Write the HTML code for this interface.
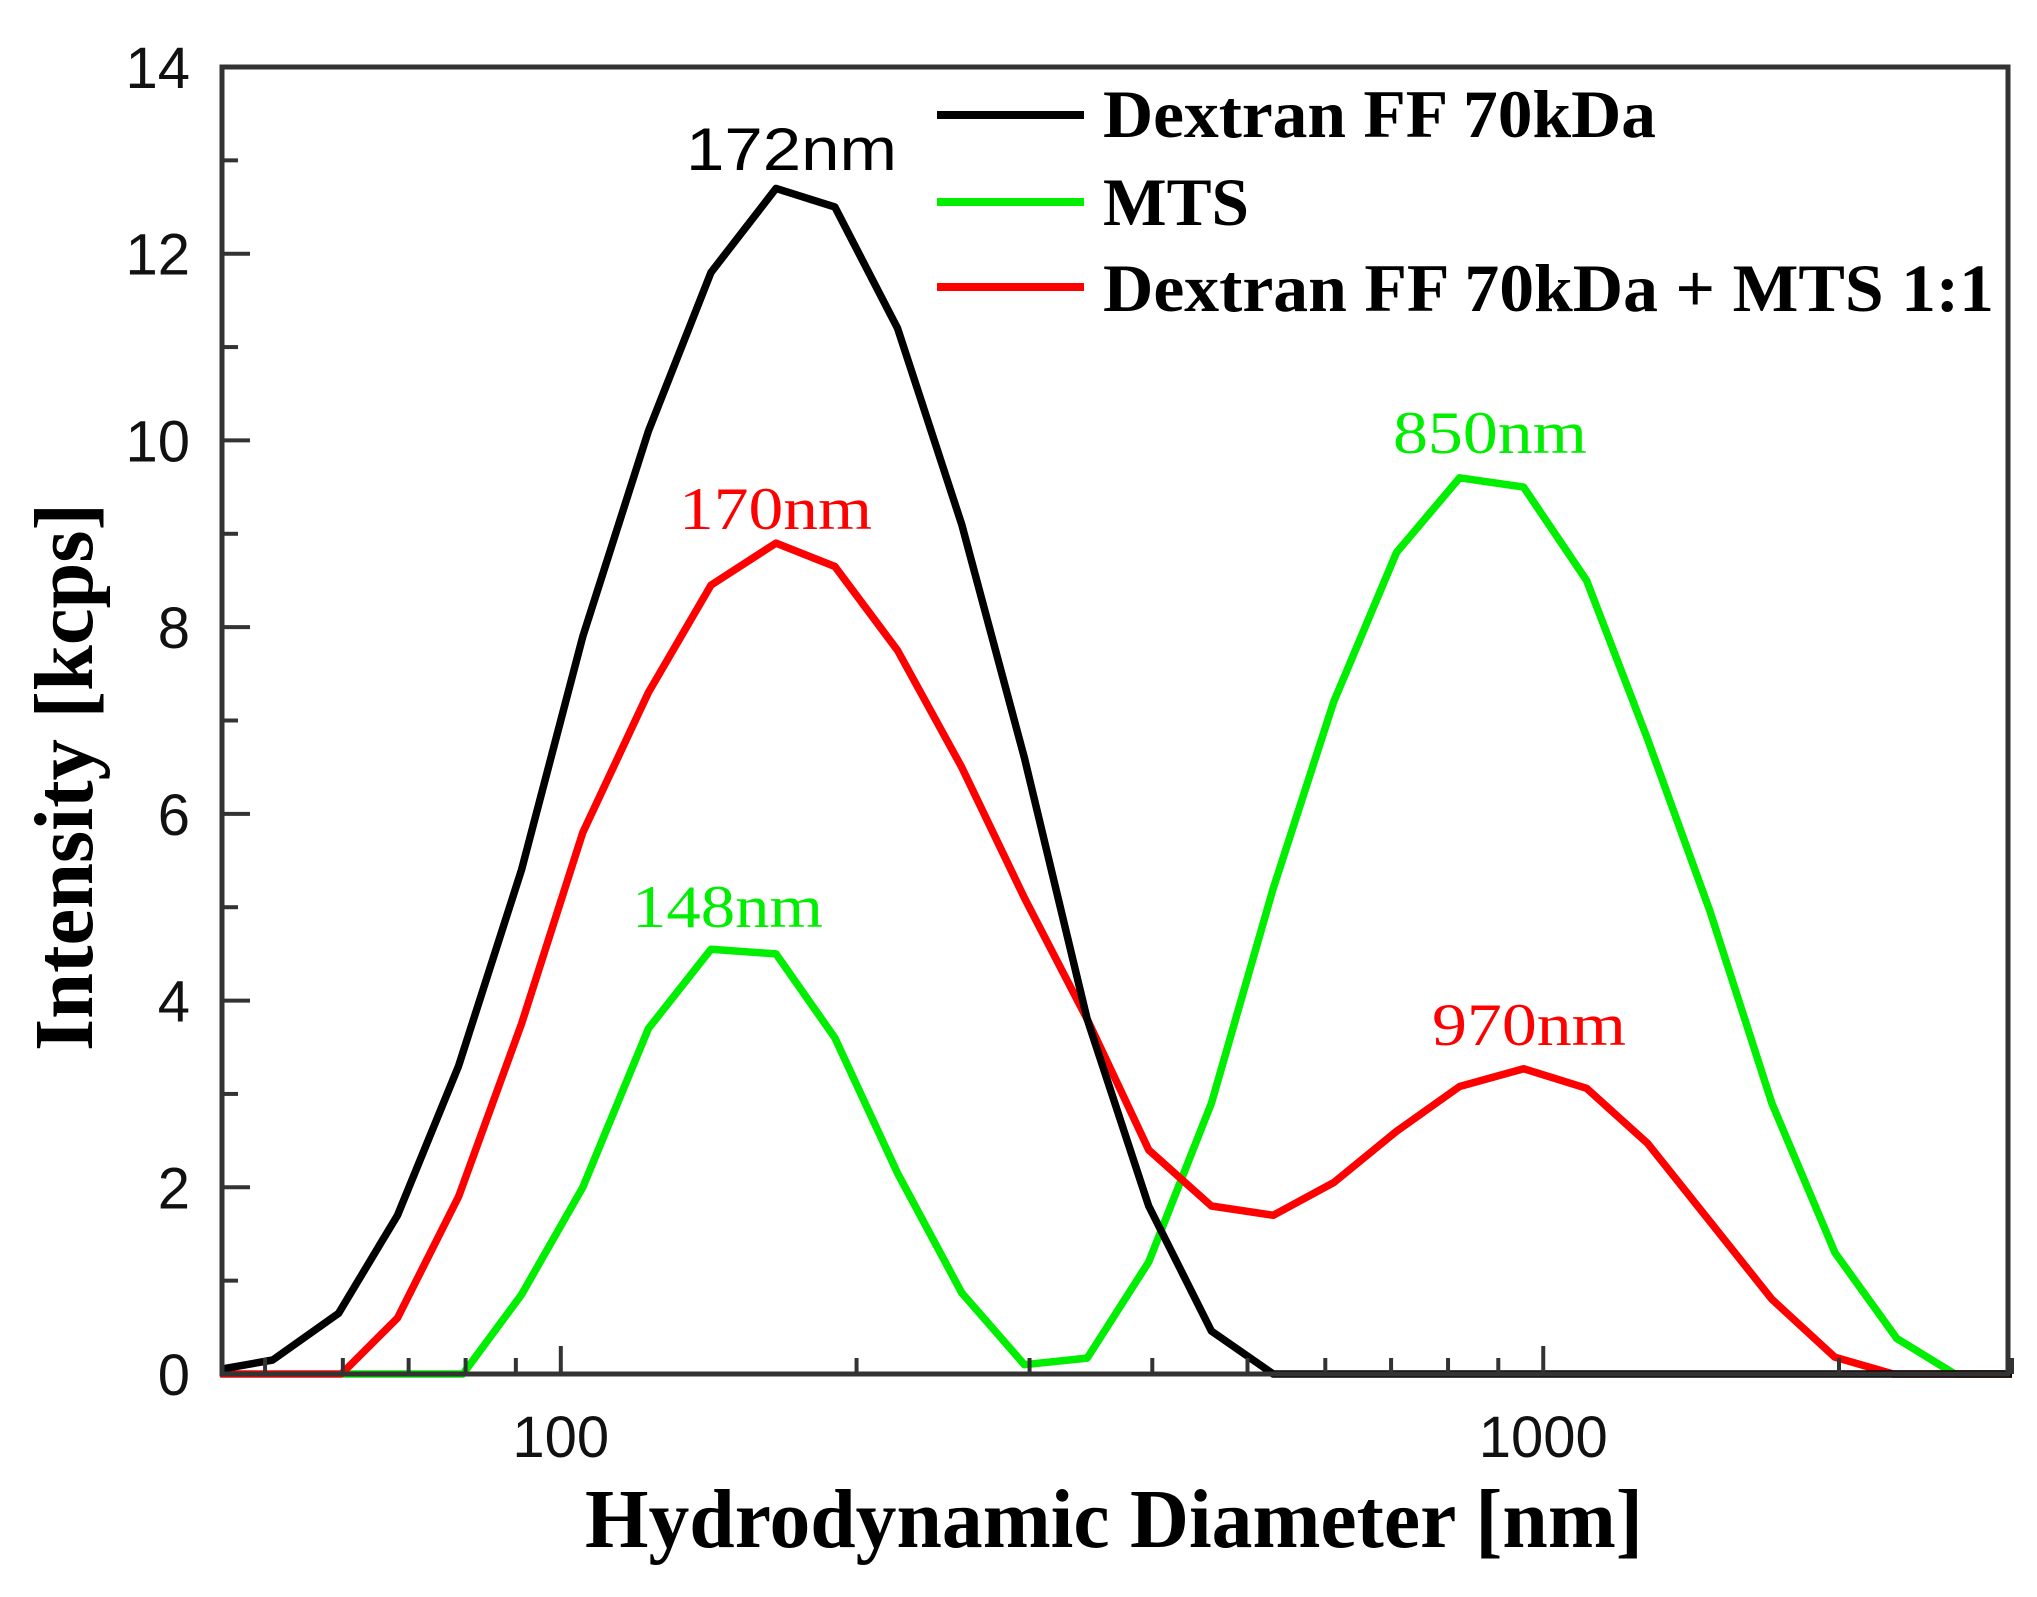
<!DOCTYPE html>
<html><head><meta charset="utf-8"><style>
html,body{margin:0;padding:0;background:#fff;}
svg{display:block;}
</style></head><body>
<svg id="chart" width="2037" height="1597" viewBox="0 0 2037 1597" xmlns="http://www.w3.org/2000/svg">
<g id="plot"></g>
</svg>
<script>
const blackX=[45,50.9,59.4,68.2,78.7,91.2,105.3,122.8,142.2,165.6,190.1,220.2,255.9,296.4,343.4,396.6,459.4,531,3000];
const blackY=[0.05,0.15,0.65,1.7,3.3,5.4,7.9,10.1,11.8,12.7,12.5,11.2,9.1,6.6,3.8,1.8,0.46,0,0];
const redX=[45,59.8,68.2,78.7,91.2,105.3,122.8,142.2,165.6,190.1,220.2,255.9,296.4,343.4,396.6,459.4,531,612,709,822,955,1107,1277,1479,1709,1981,2270,3000];
const redY=[0,0,0.6,1.9,3.75,5.8,7.3,8.45,8.9,8.65,7.75,6.5,5.1,3.8,2.4,1.8,1.7,2.05,2.6,3.08,3.27,3.06,2.47,1.63,0.8,0.18,0,0];
const greenX=[60,79.5,91.2,105.3,122.8,142.2,165.6,190.1,220.2,255.9,296.4,343.4,396.6,459.4,531,612,709,822,955,1107,1277,1479,1709,1981,2290,2623,3000];
const greenY=[0,0,0.85,2.0,3.7,4.55,4.5,3.6,2.15,0.87,0.1,0.17,1.2,2.9,5.2,7.2,8.8,9.6,9.5,8.5,6.8,4.95,2.9,1.3,0.38,0,0];
const yTicks=[0,2,4,6,8,10,12,14];
const xMajor=[100,1000];
const xMinor=[50,60,70,80,90,200,300,400,500,600,700,800,900,2000,3000];

const L=222,R=2008,T=67,B=1374;
const lx0=Math.log10(45.2),lx1=Math.log10(2972);
function sx(v){return L+(Math.log10(v)-lx0)/(lx1-lx0)*(R-L);}
function sy(v){return B-v/14*(B-T);}
const NS='http://www.w3.org/2000/svg';
const g=document.getElementById('plot');
function mk(tag,attrs,parent){const e=document.createElementNS(NS,tag);for(const k in attrs)e.setAttribute(k,attrs[k]);(parent||g).appendChild(e);return e;}

function series(xs,ys,color,name){
  const p=mk('polyline',{points:xs.map((x,i)=>sx(x).toFixed(1)+','+sy(ys[i]).toFixed(1)).join(' '),fill:'none',stroke:color,'stroke-width':7.5,'stroke-linejoin':'round'});
  
  
}
series(greenX,greenY,'#00ee00','mts-line');
series(redX,redY,'#ff0000','mixture-line');
series(blackX,blackY,'#000','dextran-line');

const fr=mk('rect',{x:L,y:T,width:R-L,height:B-T,fill:'none',stroke:'#333','stroke-width':5});



for(let v=0;v<=14;v++){
  const len=(v%2===0)?28:16;
  const t=mk('line',{x1:L,x2:L+len,y1:sy(v),y2:sy(v),stroke:'#333','stroke-width':4});
  
  
}
yTicks.forEach(v=>{
  const t=mk('text',{x:190,y:sy(v)+21,'text-anchor':'end','font-family':'Liberation Sans, sans-serif','font-size':58,fill:'#111'});
  t.textContent=v;
  
  
});
xMajor.forEach(v=>{
  const t=mk('line',{x1:sx(v),x2:sx(v),y1:B,y2:B-28,stroke:'#333','stroke-width':4});
  
  
  const l=mk('text',{x:sx(v),y:1457,'text-anchor':'middle','font-family':'Liberation Sans, sans-serif','font-size':58,fill:'#111'});
  l.textContent=v;
  
  
});
xMinor.forEach(v=>{
  const t=mk('line',{x1:sx(v),x2:sx(v),y1:B,y2:B-16,stroke:'#333','stroke-width':4});
  
  
});

function txt(s,x,y,size,fam,fill,weight,len,name,anchor){
  const a={x:x,y:y,'font-size':size,'font-family':fam,fill:fill,'font-weight':weight||'normal'};
  if(len){a.textLength=len;a.lengthAdjust='spacingAndGlyphs';}
  if(anchor)a['text-anchor']=anchor;
  const t=mk('text',a);t.textContent=s;
  
  
  return t;
}
const SERIF='Liberation Serif, serif', SANS='Liberation Sans, sans-serif';
txt('Hydrodynamic Diameter [nm]',585,1547,84,SERIF,'#000','bold',1058,'x-axis-title');
const yt=txt('Intensity [kcps]',0,0,84,SERIF,'#000','bold',548,'y-axis-title');
yt.setAttribute('transform','translate(92,1051) rotate(-90)');

const leg=[['Dextran FF 70kDa','#000',115,137,553],['MTS','#00ee00',202,225,146],['Dextran FF 70kDa + MTS 1:1','#ff0000',287,311,891]];
leg.forEach((e,i)=>{
  const l=mk('line',{x1:937,x2:1084,y1:e[2],y2:e[2],stroke:e[1],'stroke-width':8});
  
  
  txt(e[0],1103,e[3],68,SERIF,'#000','bold',e[4],'legend-entry');
});
txt('172nm',686,170,60,SANS,'#000','normal',211,'peak-label-172nm');
txt('170nm',679,529,60,SERIF,'#ff0000','normal',193,'peak-label-170nm');
txt('850nm',1393,453,60,SERIF,'#00ee00','normal',194,'peak-label-850nm');
txt('148nm',632,927,60,SERIF,'#00ee00','normal',191,'peak-label-148nm');
txt('970nm',1432,1045,60,SERIF,'#ff0000','normal',194,'peak-label-970nm');
</script>
</body></html>
